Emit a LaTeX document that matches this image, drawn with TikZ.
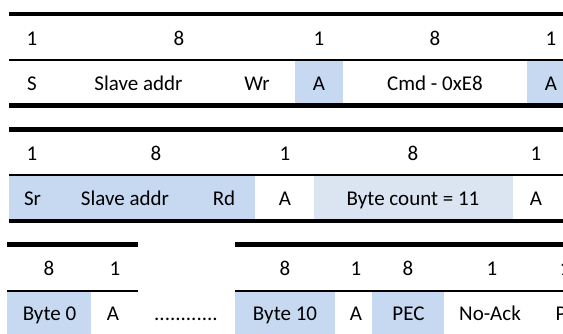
\documentclass[tikz,border=0pt]{standalone}
\usepackage{fontspec}
\setmainfont{Carlito}
\definecolor{lblue}{HTML}{C6D9F1}
\definecolor{pblue}{HTML}{DBE5F1}
\begin{document}
\begin{tikzpicture}[x=1pt,y=-1pt,
  txt/.style={anchor=base,inner sep=0pt,font=\fontsize{21}{25}\selectfont},
  thick rule/.style={line width=4.5pt},
  thin rule/.style={line width=2pt}]
\useasboundingbox (0,0) rectangle (563,333);
\clip (0,0) rectangle (563,333);
% shading
\fill[lblue] (295,60) rectangle (343,105.5);
\fill[lblue] (527,60) rectangle (575,105.5);
\fill[lblue] (9,175) rectangle (255,221);
\fill[pblue] (314,175) rectangle (513,221);
\fill[lblue] (7,290) rectangle (91,340);
\fill[lblue] (235,290) rectangle (335,340);
\fill[lblue] (372,290) rectangle (444,340);
% rules
\draw[thick rule] (9,14) -- (575,14);
\draw[thin rule] (9,60) -- (575,60);
\draw[thick rule] (9,105.5) -- (575,105.5);
\draw[thick rule] (9,129.5) -- (575,129.5);
\draw[thin rule] (9,175) -- (575,175);
\draw[thick rule] (9,221) -- (575,221);
\draw[thick rule] (7,244.5) -- (138,244.5);
\draw[thick rule] (235,244.5) -- (575,244.5);
\draw[thin rule] (7,290.5) -- (138,290.5);
\draw[thin rule] (235,290.5) -- (575,290.5);
% row 1
\node[txt] (a1) at (32,45) {1};
\node[txt] (a2) at (179,45) {8};
\node[txt] (a3) at (319,45) {1};
\node[txt] (a4) at (435,45) {8};
\node[txt] (a5) at (551,45) {1};
\node[txt] (b1) at (32,90) {S};
\node[txt] (b2) at (138.5,90) {Slave addr};
\node[txt] (b3) at (257,90) {Wr};
\node[txt] (b4) at (319,90) {A};
\node[txt] (b5) at (435,90) {Cmd - 0xE8};
\node[txt] (b6) at (551,90) {A};
% row 2
\node[txt] (c1) at (32,160) {1};
\node[txt] (c2) at (156,160) {8};
\node[txt] (c3) at (285,160) {1};
\node[txt] (c4) at (413,160) {8};
\node[txt] (c5) at (536,160) {1};
\node[txt] (d1) at (32.5,205) {Sr};
\node[txt] (d2) at (125,205) {Slave addr};
\node[txt] (d3) at (224,205) {Rd};
\node[txt] (d4) at (285,205) {A};
\node[txt] (d5) at (413,205) {Byte count = 11};
\node[txt] (d6) at (536,205) {A};
% row 3
\node[txt] (e1) at (49,275.5) {8};
\node[txt] (e2) at (115,275.5) {1};
\node[txt] (e3) at (285,275.5) {8};
\node[txt] (e4) at (356,275.5) {1};
\node[txt] (e5) at (408,275.5) {8};
\node[txt] (e6) at (492,275.5) {1};
\node[txt] (e7) at (565,275.5) {1};
\node[txt] (f1) at (49.5,320) {Byte 0};
\node[txt] (f2) at (113,320) {A};
\node[txt] (f3) at (186,320) {............};
\node[txt] (f4) at (285,320) {Byte 10};
\node[txt] (f5) at (356,320) {A};
\node[txt] (f6) at (408.5,320) {PEC};
\node[txt] (f7) at (490,320) {No-Ack};
\node[txt] (f8) at (561,320) {P};
\end{tikzpicture}
\end{document}
